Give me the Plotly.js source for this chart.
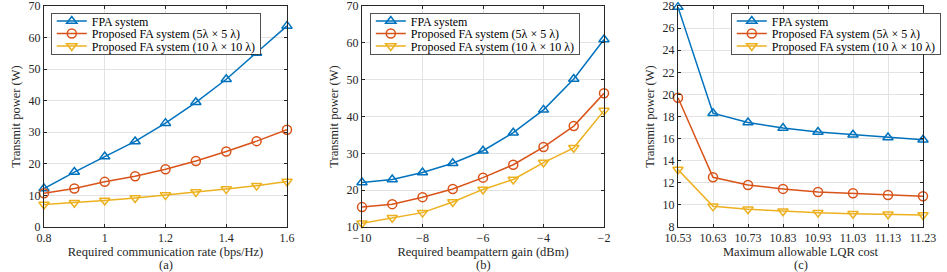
<!DOCTYPE html>
<html><head><meta charset="utf-8">
<script src="https://cdn.plot.ly/plotly-3.0.1.min.js"></script>
<style>html,body{margin:0;padding:0;background:#fff}#plot{width:947px;height:272px}
#warm{position:absolute;left:-9999px;top:0;font-family:'Liberation Serif';font-size:12px}</style>
</head><body><span id="warm">Transmit power (W) λ ×</span><div id="plot"></div>
<script>
// Panel (a)
const rateX = [0.8,0.9,1.0,1.1,1.2,1.3,1.4,1.5,1.6];
const rateFPA = [12.2,17.4,22.3,27.1,32.9,39.5,46.8,55.1,63.7];
const rateFA5 = [10.7,12.2,14.3,16.1,18.3,20.9,23.9,27.2,30.8];
const rateFA10 = [7.1,7.7,8.4,9.2,10.1,11.1,12.0,13.1,14.4];
// Panel (b)
const gainX = [-10,-9,-8,-7,-6,-5,-4,-3,-2];
const gainFPA = [22.1,22.9,24.8,27.3,30.7,35.6,41.8,50.2,60.9];
const gainFA5 = [15.4,16.2,18.1,20.3,23.4,26.9,31.7,37.4,46.3];
const gainFA10 = [11.0,12.5,13.9,16.8,20.2,22.9,27.5,31.5,41.6];
// Panel (c)
const lqrX = [10.53,10.63,10.73,10.83,10.93,11.03,11.13,11.23];
const lqrFPA = [27.9,18.3,17.45,16.95,16.6,16.35,16.1,15.9];
const lqrFA5 = [19.7,12.5,11.8,11.45,11.17,11.05,10.9,10.78];
const lqrFA10 = [13.2,9.87,9.6,9.42,9.3,9.2,9.15,9.09];

const names = ['FPA system','Proposed FA system (5λ × 5 λ)','Proposed FA system (10 λ × 10 λ)'];
const panelLabels = ['(a)','(b)','(c)'];
const colors = ['#0072BD','#D95319','#EDB120'];
const symbols = ['triangle-up-open','circle-open','triangle-down-open'];
const FF = 'Liberation Serif';

function mk(x, ys, xa, ya, leg) {
  return ys.map((y,i)=>({
    x: x, y: y, xaxis: xa, yaxis: ya, legend: leg, name: names[i],
    type:'scatter', mode:'lines+markers', cliponaxis:false,
    line:{color:colors[i], width:1.5},
    marker:{symbol:symbols[i], size:9, color:colors[i], line:{color:colors[i], width:1.5}}
  }));
}
const data = [
  ...mk(rateX,[rateFPA,rateFA5,rateFA10],'x','y','legend'),
  ...mk(gainX,[gainFPA,gainFA5,gainFA10],'x2','y2','legend2'),
  ...mk(lqrX,[lqrFPA,lqrFA5,lqrFA10],'x3','y3','legend3')
];
const W=947,H=272;
const yd=[1-227/H, 1-6/H];
function ax(extra){
  return Object.assign({
    showline:true, linecolor:'#262626', linewidth:1, mirror:'ticks',
    ticks:'inside', ticklen:3, tickcolor:'#262626', tickwidth:1,
    showgrid:true, gridcolor:'#e3e3e3', gridwidth:1, zeroline:false,
    tickfont:{family:FF, size:12, color:'#262626'}, ticklabeloverflow:'allow',
    fixedrange:true
  }, extra);
}
function xt(t){return {text:t, font:{family:FF,size:12.5,color:'#262626'}, standoff:1};}
function yt(t){return {text:t, font:{family:FF,size:12.5,color:'#262626'}, standoff:5};}
function leg(x){
  return {x:x/W, y:1-13/H, xanchor:'left', yanchor:'top', bgcolor:'#fff',
    bordercolor:'#262626', borderwidth:0.8, font:{family:FF,size:12,color:'#000'},
    tracegroupgap:0, itemwidth:30};
}
const panelCenters = [165.5, 483, 800.5];
const layout = {
  width:W, height:H, margin:{l:0,r:0,t:0,b:0}, paper_bgcolor:'#fff', plot_bgcolor:'#fff',
  font:{family:FF, size:12, color:'#262626'},
  showlegend:true,
  xaxis: ax({domain:[44/W,287/W], anchor:'y', range:[0.8,1.6], tick0:0.8, dtick:0.2,
    title:xt('Required communication rate (bps/Hz)')}),
  yaxis: ax({domain:yd, anchor:'x', range:[0,70], dtick:10, title:yt('Transmit power (W)')}),
  xaxis2: ax({domain:[362/W,604/W], anchor:'y2', range:[-10,-2], tick0:-10, dtick:2,
    title:xt('Required beampattern gain (dBm)')}),
  yaxis2: ax({domain:yd, anchor:'x2', range:[10,70], dtick:10, title:yt('Transmit power (W)')}),
  xaxis3: ax({domain:[678/W,923/W], anchor:'y3', range:[10.53,11.23], tick0:10.53, dtick:0.1, tickformat:'.2f',
    title:xt('Maximum allowable LQR cost')}),
  yaxis3: ax({domain:yd, anchor:'x3', range:[8,28], dtick:2, title:yt('Transmit power (W)')}),
  legend: leg(51), legend2: leg(370), legend3: leg(731),
  annotations: panelLabels.map((t,i)=>({text:t, xref:'paper', yref:'paper', x:panelCenters[i]/W, y:1-265/H,
    xanchor:'center', yanchor:'middle', showarrow:false, font:{family:FF,size:12.5,color:'#262626'}}))
};
function draw(){
  Plotly.newPlot('plot', data, layout, {staticPlot:true, displayModeBar:false}).then(gd=>{
    // tighten legend rows to match the compact reference legend
    const rowH = 12.5, top = 8;
    gd.querySelectorAll('g.legend, g[class^="legend"]').forEach(lg=>{
      const traces = lg.querySelectorAll('g.traces');
      if(!traces.length) return;
      traces.forEach((t,i)=>{
        const m = /translate\(([^,]+),/.exec(t.getAttribute('transform')||'');
        const tx = m ? m[1] : 0;
        t.setAttribute('transform','translate('+tx+','+(top+i*rowH)+')');
      });
      const bg = lg.querySelector('rect.bg');
      if(bg) bg.setAttribute('height', top*2 + (traces.length-1)*rowH);
    });
  });
}
if (document.fonts && document.fonts.load) {
  document.fonts.load('12px "Liberation Serif"').then(draw, draw);
} else { draw(); }
</script></body></html>
